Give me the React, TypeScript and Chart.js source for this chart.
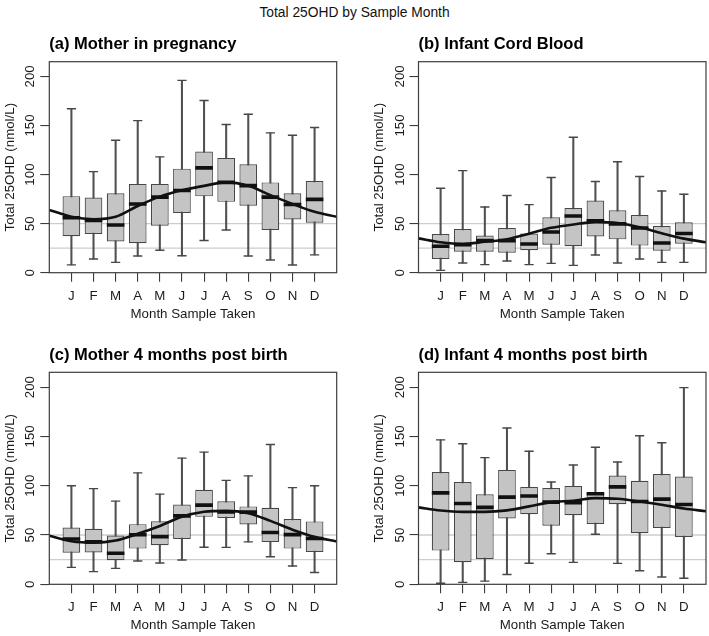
import React, { useEffect, useRef } from "react";
import { Chart, registerables } from "chart.js";

Chart.register(...registerables);

const FONT = '"Liberation Sans", Arial, Helvetica, sans-serif';

const months = ["J", "F", "M", "A", "M", "J", "J", "A", "S", "O", "N", "D"];
const monthPos = [1, 2, 3, 4, 5, 6, 7, 8, 9, 10, 11, 12];
const curveX = [0, 1, 2, 3, 4, 5, 6, 7, 8, 9, 10, 11, 12, 13];
const yTicks = [0, 50, 100, 150, 200];
const refLevels = [25, 50];

// (a) Mother in pregnancy
const aHigh = [167, 103, 135, 155, 118, 196, 175.5, 151, 161.5, 142.5, 140, 148];
const aQ3 = [78, 76.5, 81, 90.5, 90.5, 106, 123.5, 117, 110.5, 92, 81, 93.5];
const aMed = [56, 53.2, 48.6, 70, 77, 83.8, 106.8, 92, 88.7, 77, 69.5, 74.7];
const aQ1 = [37.2, 39.5, 31.8, 30, 47.8, 60.8, 77.8, 72.2, 68.2, 43.6, 54.2, 51];
const aLow = [8, 14, 10.5, 17, 22.8, 17.2, 32.8, 43.5, 17, 13, 7.9, 18.2];
const aCurve = [64, 57, 54.5, 57, 68, 77.5, 84, 88.5, 92, 88.5, 79, 70, 62, 57];

// (b) Infant Cord Blood
const bHigh = [86, 104, 67, 78.6, 69.4, 97, 138, 93, 113, 98, 83.3, 80];
const bQ3 = [39.5, 44.6, 37.8, 45.6, 40, 56.5, 66, 73.5, 63.6, 58.8, 47.6, 51.4];
const bMed = [27, 28.6, 32.7, 32.7, 29.3, 41.5, 57.8, 53, 49.7, 45.6, 30.3, 40];
const bQ1 = [14, 21.4, 21.4, 20.4, 23, 28.6, 27, 37, 34, 27.6, 22.4, 29.6];
const bLow = [2.4, 9.9, 8.2, 11.9, 8.2, 9.5, 7.5, 18, 9.9, 13.9, 10.5, 10.5];
const bCurve = [35, 31, 29.3, 31.5, 34, 39.8, 45.7, 49.2, 51.5, 50.6, 46.3, 40.2, 34.7, 31];

// (c) Mother 4 months post birth
const cHigh = [100, 97, 84.4, 113, 91.5, 128, 134, 105.4, 110, 141.8, 98, 100];
const cQ3 = [57.5, 56.3, 49.4, 61, 64, 81, 95.8, 84.2, 79, 77.6, 66.2, 63.8];
const cMed = [46, 43.2, 31.5, 50.2, 48.3, 69.4, 80.3, 73.5, 73.2, 52.6, 50.4, 46.5];
const cQ1 = [32, 32.2, 24.5, 36.2, 39.6, 46, 68.4, 67.3, 60.7, 42.8, 36.2, 32.8];
const cLow = [17.2, 12.9, 16.2, 23.6, 21.6, 24.6, 37.6, 37.4, 43, 27.9, 18.5, 11.9];
const cCurve = [49.3, 43.7, 42.2, 44.4, 51.2, 59.2, 68.5, 73.5, 74.5, 72.1, 64.3, 55.4, 48.1, 43.5];

// (d) Infant 4 months post birth
const dHigh = [146.5, 142.5, 128.5, 158.5, 135, 103.7, 121, 139, 124, 150.7, 143.5, 199.5];
const dQ3 = [113.8, 103.8, 91.4, 116, 98.8, 97.6, 99.8, 92.9, 110.3, 105, 111.8, 109.2];
const dMed = [92.7, 82, 78, 88.4, 89.5, 83.3, 82.7, 91.8, 98.8, 84, 86.4, 81];
const dQ1 = [34.2, 22.4, 25.7, 66.8, 71, 59.5, 70, 61.2, 81.3, 51.8, 57.2, 48];
const dLow = [1, 2, 3.2, 9.9, 21.4, 31, 22.2, 50.7, 21.2, 13.8, 7.4, 6.2];
const dCurve = [78, 74.8, 73.5, 73.5, 75, 79, 83.3, 84.7, 87.4, 86.7, 84, 80.6, 76.9, 74];

const titles = [
  "(a) Mother in pregnancy",
  "(b) Infant Cord Blood",
  "(c) Mother 4 months post birth",
  "(d) Infant 4 months post birth",
];
const mainTitle = "Total 25OHD by Sample Month";
const yTitle = "Total 25OHD (nmol/L)";
const xTitle = "Month Sample Taken";

type Geom = { left: number; top: number; w: number; h: number; cl: number; cr: number; ct: number; cb: number };

const geoms: Geom[] = [
  { left: 0, top: 26, w: 354, h: 300, cl: 49.3, cr: 336.7, ct: 35.7, cb: 246.7 },
  { left: 355, top: 26, w: 354, h: 300, cl: 63.5, cr: 351, ct: 35.7, cb: 246.7 },
  { left: 0, top: 336, w: 354, h: 300, cl: 49.3, cr: 336.7, ct: 36.3, cb: 248.3 },
  { left: 355, top: 336, w: 354, h: 300, cl: 63.5, cr: 351, ct: 36.3, cb: 248.3 },
];

const panelData = [
  { low: aLow, q1: aQ1, med: aMed, q3: aQ3, high: aHigh, curve: aCurve },
  { low: bLow, q1: bQ1, med: bMed, q3: bQ3, high: bHigh, curve: bCurve },
  { low: cLow, q1: cQ1, med: cMed, q3: cQ3, high: cHigh, curve: cCurve },
  { low: dLow, q1: dQ1, med: dMed, q3: dQ3, high: dHigh, curve: dCurve },
];

function Panel({ idx }: { idx: number }) {
  const ref = useRef<HTMLCanvasElement | null>(null);
  const g = geoms[idx];
  const d = panelData[idx];
  useEffect(() => {
    if (!ref.current) return;
    const textPlugin = {
      id: "rstyle",
      afterDraw(chart: any) {
        const ctx = chart.ctx;
        const ca = chart.chartArea;
        const ys = chart.scales.y;
        ctx.save();
        ctx.strokeStyle = "#3c3c3c";
        ctx.lineWidth = 1.2;
        ctx.strokeRect(ca.left, ca.top, ca.right - ca.left, ca.bottom - ca.top);
        ctx.fillStyle = "#1a1a1a";
        ctx.font = `13.3px ${FONT}`;
        ctx.textAlign = "center";
        ctx.textBaseline = "middle";
        for (const v of yTicks) {
          const y = ys.getPixelForValue(v);
          ctx.save();
          ctx.translate(ca.left - 18.5, y);
          ctx.rotate(-Math.PI / 2);
          ctx.fillText(String(v), 0, 0);
          ctx.restore();
        }
        ctx.save();
        ctx.translate(ca.left - 39, (ca.top + ca.bottom) / 2);
        ctx.rotate(-Math.PI / 2);
        ctx.fillText(yTitle, 0, 0);
        ctx.restore();
        ctx.fillText(xTitle, (ca.left + ca.right) / 2, ca.bottom + 41.5);
        ctx.fillStyle = "#000";
        ctx.font = `bold 16.5px ${FONT}`;
        ctx.textAlign = "left";
        ctx.fillText(titles[idx], ca.left, ca.top - 17);
        ctx.restore();
      },
    };
    const datasets: any[] = [
      {
        type: "line",
        data: curveX.map((x, i) => ({ x, y: d.curve[i] })),
        borderColor: "#111",
        borderWidth: 2.6,
        pointRadius: 0,
        cubicInterpolationMode: "monotone",
        order: 0,
      },
      {
        type: "scatter",
        data: monthPos.map((x, i) => ({ x, y: d.med[i] })),
        pointStyle: "line",
        pointRadius: 8.8,
        pointHoverRadius: 8.8,
        borderColor: "#111",
        borderWidth: 3.6,
        order: 1,
      },
      {
        type: "bar",
        data: monthPos.map((x, i) => ({ x, y: [d.q1[i], d.q3[i]] })),
        backgroundColor: "#c4c4c4",
        borderColor: "#474747",
        borderWidth: 1.2,
        borderSkipped: false,
        barPercentage: 0.8,
        categoryPercentage: 1,
        grouped: false,
        order: 2,
      },
      {
        type: "scatter",
        data: monthPos.map((x, i) => ({ x, y: d.high[i] })),
        pointStyle: "line",
        pointRadius: 4.6,
        pointHoverRadius: 4.6,
        borderColor: "#474747",
        borderWidth: 1.4,
        order: 3,
      },
      {
        type: "scatter",
        data: monthPos.map((x, i) => ({ x, y: d.low[i] })),
        pointStyle: "line",
        pointRadius: 4.6,
        pointHoverRadius: 4.6,
        borderColor: "#474747",
        borderWidth: 1.4,
        order: 3,
      },
      {
        type: "bar",
        data: monthPos.map((x, i) => ({ x, y: [d.low[i], d.high[i]] })),
        backgroundColor: "#505050",
        borderWidth: 0,
        barThickness: 1.4,
        grouped: false,
        order: 4,
      },
      ...refLevels.map((lv) => ({
        type: "line",
        data: [
          { x: 0, y: lv },
          { x: 13, y: lv },
        ],
        borderColor: "#cdcdcd",
        borderWidth: 1.4,
        pointRadius: 0,
        order: 5,
      })),
    ];
    const chart = new Chart(ref.current, {
      type: "bar",
      data: { datasets },
      options: {
        animation: false,
        responsive: false,
        events: [],
        layout: {
          autoPadding: false,
          padding: { left: 0, top: g.ct, right: g.w - g.cr, bottom: 0 },
        },
        plugins: { legend: { display: false }, tooltip: { enabled: false }, title: { display: false } },
        scales: {
          x: {
            type: "linear",
            min: 0,
            max: 13,
            offset: false,
            afterBuildTicks: (s: any) => {
              s.ticks = monthPos.map((v) => ({ value: v }));
            },
            afterFit: (s: any) => {
              s.height = g.h - g.cb;
            },
            grid: { offset: false, drawOnChartArea: false, drawTicks: true, tickLength: 9, color: "#3c3c3c", lineWidth: 1.1 },
            border: { display: false },
            ticks: {
              autoSkip: false,
              maxRotation: 0,
              padding: 6.5,
              color: "#1a1a1a",
              font: { family: FONT, size: 13.3 },
              callback: (_v: any, i: number) => months[i],
            },
          },
          y: {
            type: "linear",
            min: 0,
            max: 215,
            afterBuildTicks: (s: any) => {
              s.ticks = yTicks.map((v) => ({ value: v }));
            },
            afterFit: (s: any) => {
              s.width = g.cl;
            },
            grid: { drawOnChartArea: false, drawTicks: true, tickLength: 9, color: "#3c3c3c", lineWidth: 1.1 },
            border: { display: false },
            ticks: { display: false },
          },
        },
      } as any,
      plugins: [textPlugin],
    } as any);
    return () => chart.destroy();
  }, [idx]);
  return (
    <canvas
      ref={ref}
      width={g.w}
      height={g.h}
      style={{ position: "absolute", left: g.left, top: g.top, width: g.w, height: g.h }}
    />
  );
}

export default function App() {
  return (
    <div style={{ position: "absolute", left: 0, top: 0, width: 709, height: 636, background: "#fff", overflow: "hidden" }}>
      <div
        style={{
          position: "absolute",
          left: 0,
          top: 5,
          width: 709,
          textAlign: "center",
          fontFamily: FONT,
          fontSize: 13.8,
          lineHeight: "16px",
          color: "#111",
        }}
      >
        {mainTitle}
      </div>
      {[0, 1, 2, 3].map((i) => (
        <Panel key={i} idx={i} />
      ))}
    </div>
  );
}
